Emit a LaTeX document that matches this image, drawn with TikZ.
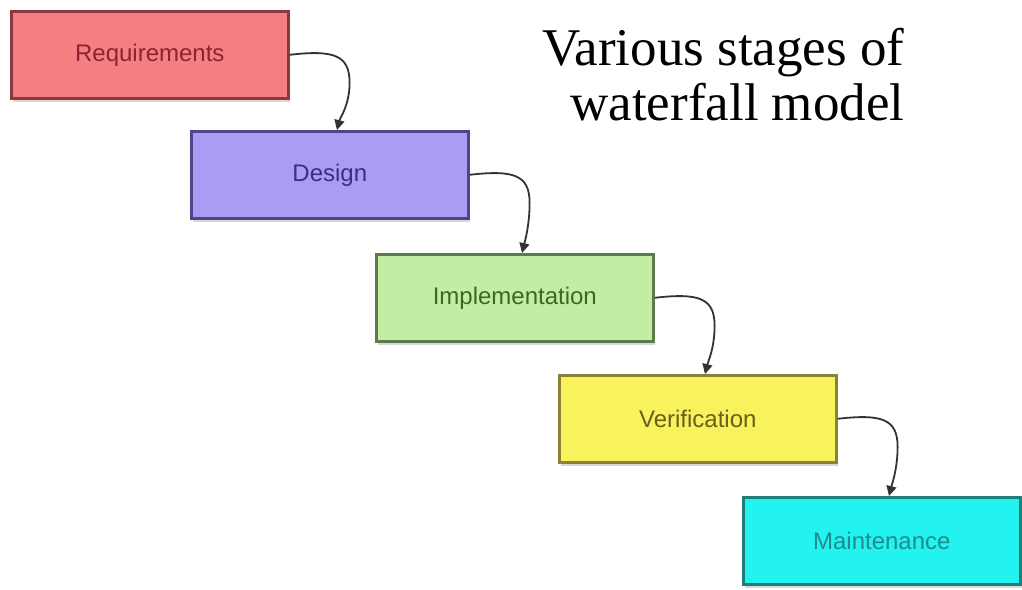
\documentclass[tikz,border=0pt]{standalone}
\usepackage{fontspec}
\setmainfont{Liberation Serif}
\setsansfont{Liberation Sans}
\usetikzlibrary{calc,shadows,arrows.meta}

\definecolor{reqfill}{HTML}{F57E82}
\definecolor{reqline}{HTML}{8A3A3E}
\definecolor{reqtext}{HTML}{8C2232}
\definecolor{desfill}{HTML}{AA9CF2}
\definecolor{desline}{HTML}{4E4686}
\definecolor{destext}{HTML}{3A2E86}
\definecolor{impfill}{HTML}{C4EDA4}
\definecolor{impline}{HTML}{5C7A4C}
\definecolor{imptext}{HTML}{3A6A22}
\definecolor{verfill}{HTML}{F8F25C}
\definecolor{verline}{HTML}{8A8234}
\definecolor{vertext}{HTML}{66601A}
\definecolor{maifill}{HTML}{22F2F0}
\definecolor{mailine}{HTML}{237C7A}
\definecolor{maitext}{HTML}{1E8C8C}

\tikzset{
  stage/.style={draw=#1line, fill=#1fill, text=#1text, line width=2.6pt,
    minimum width=277pt, minimum height=87pt, anchor=north west,
    font=\sffamily\fontsize{24}{27}\selectfont,
    drop shadow={shadow xshift=2pt, shadow yshift=-4pt, opacity=0.3}},
  conn/.style={draw=black!80, line width=1.8pt,
    -{Triangle[length=10pt,width=10pt]}}
}

\begin{document}
\begin{tikzpicture}[x=1pt,y=-1pt]
  \useasboundingbox[fill=white] (0,0) rectangle (1022,589);

  \node[stage=req] (s1) at (10,10)   {Requirements};
  \node[stage=des] (s2) at (190,130) {Design};
  \node[stage=imp] (s3) at (375,253) {Implementation};
  \node[stage=ver] (s4) at (558,374) {Verification};
  \node[stage=mai] (s5) at (742,496) {Maintenance};

  \node[font=\fontsize{53}{55}\selectfont, align=right, anchor=north east]
    (title) at (908,25) {Various stages of\\waterfall model};

  % hooked connectors from each stage to the next one
  \foreach \a/\b in {s1/s2, s2/s3, s3/s4, s4/s5} {
    \coordinate (k\a) at ($(\a.east)+(60,28)$);
    \coordinate (t\a) at ($(\b.north west)+(147,0)$);
    \draw[conn] (\a.east) .. controls ($(\a.east)+(44,-5)$) and ($(k\a)+(0,-28)$) .. (k\a)
      .. controls ($(k\a)+(0,22)$) and ($(t\a)+(3,-12)$) .. (t\a);
  }
\end{tikzpicture}
\end{document}
